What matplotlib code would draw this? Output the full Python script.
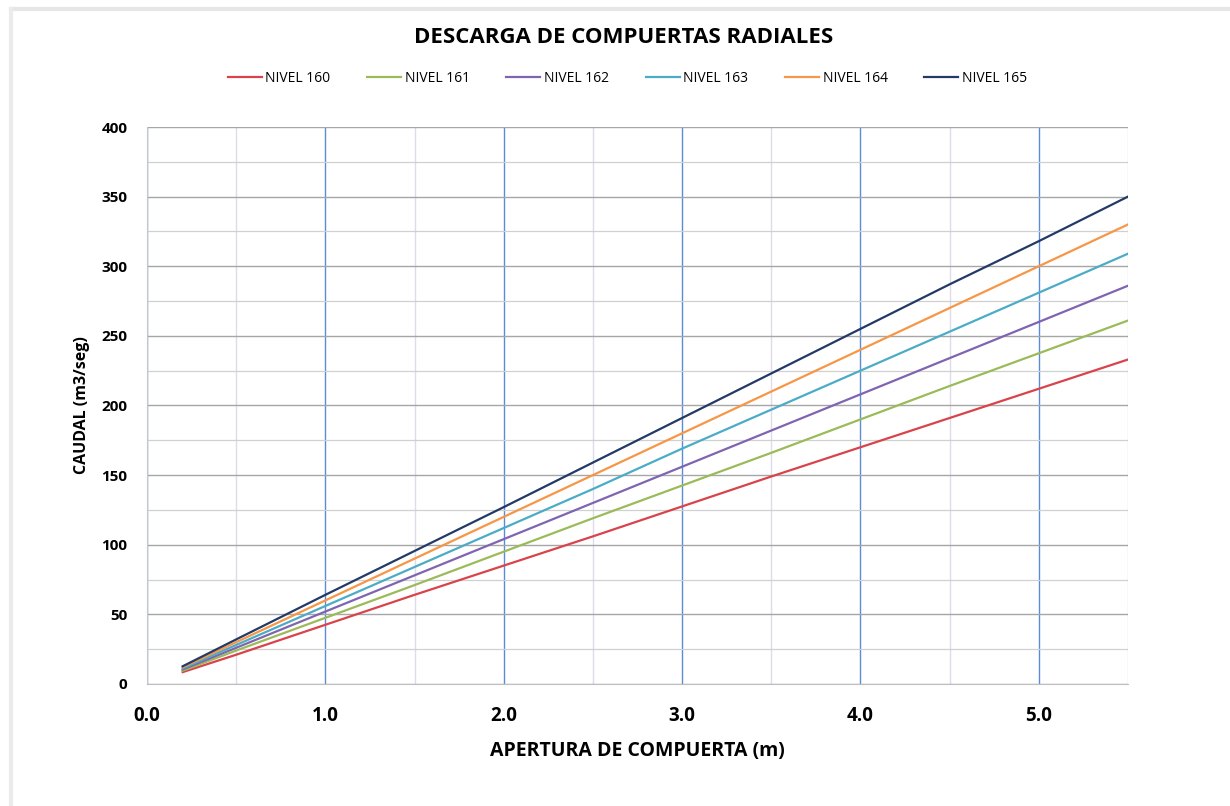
import numpy as np
import matplotlib.pyplot as plt
from matplotlib.lines import Line2D
from matplotlib.ticker import MultipleLocator

# Apertura de compuerta (m)
apertura = [0.2, 0.5, 1.0, 1.5, 2.0, 2.5, 3.0, 3.5, 4.0, 4.5, 5.0, 5.5]

# Caudal (m3/seg) por nivel de embalse
nivel160 = [8.5, 21, 42.5, 64, 85, 106, 127.5, 149, 170, 191, 212, 233]
nivel161 = [9.5, 24, 47.5, 71, 95, 119, 142.5, 166, 190, 214, 237.5, 261]
nivel162 = [10.4, 26, 52, 78, 104, 130, 156, 182, 208, 234, 260, 286]
nivel163 = [11.2, 28, 56, 84, 112, 140, 169, 197, 225, 253, 281, 309]
nivel164 = [12, 30, 60, 90, 120, 150, 180, 210, 240, 270, 300, 330]
nivel165 = [12.7, 32, 64, 95.5, 127, 159, 191, 223, 255, 287, 318, 350]

series = [nivel160, nivel161, nivel162, nivel163, nivel164, nivel165]
labels = ['NIVEL 160', 'NIVEL 161', 'NIVEL 162', 'NIVEL 163', 'NIVEL 164', 'NIVEL 165']
colors = ['#D9434A', '#9BBB59', '#7F64B0', '#4BACC6', '#F79646', '#233A66']

plt.rcParams['font.family'] = ['Open Sans', 'DejaVu Sans']

fig = plt.figure(figsize=(12.3, 8.06), dpi=100)
# borde tenue arriba y a la izquierda (captura de pantalla)
fig.lines.append(Line2D([0.009, 1.0], [0.989, 0.989], transform=fig.transFigure,
                        color='#E6E6E6', linewidth=3))
fig.lines.append(Line2D([0.009, 0.009], [0.0, 0.989], transform=fig.transFigure,
                        color='#EBEBEB', linewidth=3))

ax = fig.add_axes([0.1195, 0.1514, 0.7975, 0.691])

for vals, lab, col in zip(series, labels, colors):
    ax.plot(apertura, vals, color=col, linewidth=1.6, label=lab, zorder=3)

ax.set_xlim(0, 5.5)
ax.set_ylim(0, 400)
ax.xaxis.set_major_locator(MultipleLocator(1.0))
ax.xaxis.set_minor_locator(MultipleLocator(0.5))
ax.yaxis.set_major_locator(MultipleLocator(50))
ax.yaxis.set_minor_locator(MultipleLocator(25))
ax.xaxis.set_major_formatter(lambda v, p: f'{v:.1f}')

ax.grid(which='major', axis='x', color='#5B8BD6', linewidth=1.0)
ax.grid(which='minor', axis='x', color='#DCDCEB', linewidth=1.0)
ax.grid(which='major', axis='y', color='#A6A6A6', linewidth=1.0)
ax.grid(which='minor', axis='y', color='#D0D0D0', linewidth=0.9)
ax.set_axisbelow(True)

for s in ['top', 'right']:
    ax.spines[s].set_visible(False)
ax.spines['left'].set_color('#C8C8C8')
ax.spines['bottom'].set_color('#BFBFBF')
ax.tick_params(which='both', length=0)
ax.tick_params(axis='y', labelsize=11, pad=14)
ax.tick_params(axis='x', labelsize=13.5, pad=16)
for t in ax.get_xticklabels() + ax.get_yticklabels():
    t.set_fontweight('bold')

ax.set_xlabel('APERTURA DE COMPUERTA (m)', fontsize=14, fontweight='bold', labelpad=11)
ax.set_ylabel('CAUDAL (m3/seg)', fontsize=11.5, fontweight='bold', labelpad=8)

fig.text(0.507, 0.953, 'DESCARGA DE COMPUERTAS RADIALES', ha='center', va='center',
         fontsize=16, fontweight='bold')
fig.legend(loc='center', bbox_to_anchor=(0.51, 0.903), ncol=6, frameon=False,
           fontsize=10, handlelength=2.45, columnspacing=2.65, handletextpad=0.25)

fig.savefig('out.png', dpi=100)
